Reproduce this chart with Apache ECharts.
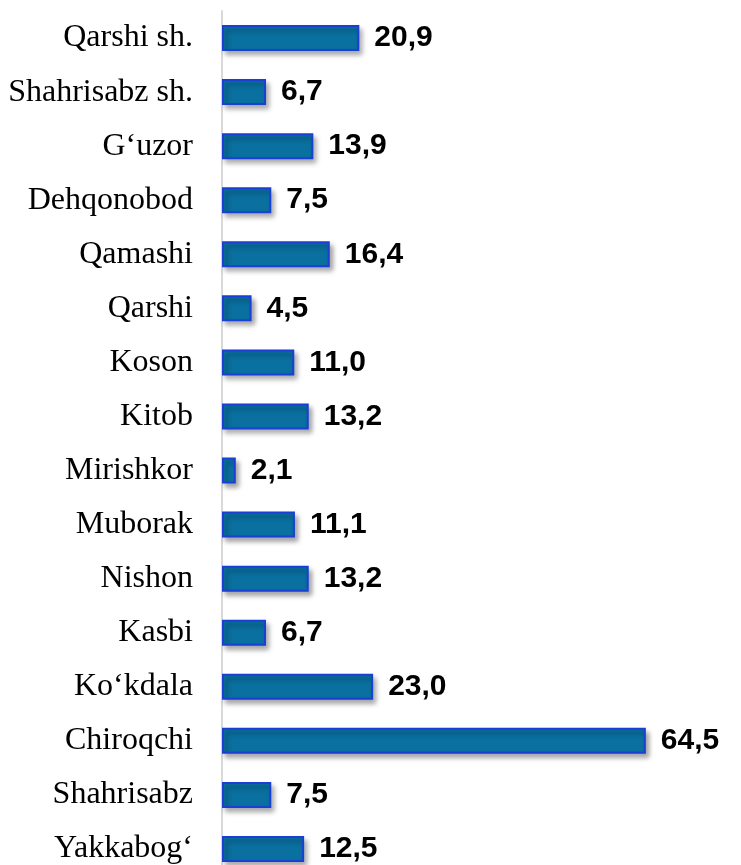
<!DOCTYPE html>
<html>
<head>
<meta charset="utf-8">
<script src="https://cdn.jsdelivr.net/npm/echarts@6/dist/echarts.min.js"></script>
<style>
  html, body { margin: 0; padding: 0; background: #fff; overflow: hidden; }
  #main { width: 741px; height: 880px; }
</style>
</head>
<body>
<div id="main"></div>
<script>
var districts = ['Qarshi sh.', 'Shahrisabz sh.', 'G‘uzor', 'Dehqonobod', 'Qamashi', 'Qarshi', 'Koson', 'Kitob',
  'Mirishkor', 'Muborak', 'Nishon', 'Kasbi', 'Ko‘kdala', 'Chiroqchi', 'Shahrisabz', 'Yakkabog‘'];
var values = [20.9, 6.7, 13.9, 7.5, 16.4, 4.5, 11.0, 13.2, 2.1, 11.1, 13.2, 6.7, 23.0, 64.5, 7.5, 12.5];

var chartDom = document.getElementById('main');
var myChart = echarts.init(chartDom);

// the chart runs a little past the bottom edge of the window, like the original
var option = {
  animation: false,
  grid: {
    left: 222,
    right: 59,
    top: 11,
    height: 865
  },
  xAxis: {
    type: 'value',
    min: 0,
    max: 70,
    show: false
  },
  yAxis: {
    type: 'category',
    data: districts,
    inverse: true,
    axisLine: { show: true, lineStyle: { color: '#d9d9d9', width: 2 } },
    axisTick: { show: false },
    axisLabel: {
      margin: 29,
      color: '#000',
      fontFamily: '"Liberation Serif", "Times New Roman", serif',
      fontSize: 32
    }
  },
  series: [{
    type: 'bar',
    data: values,
    barWidth: 26,
    itemStyle: {
      color: '#0a70a0',
      borderColor: '#1a3fd6',
      borderWidth: 2,
      shadowBlur: 5,
      shadowColor: 'rgba(0,0,0,0.35)',
      shadowOffsetX: 3,
      shadowOffsetY: 4
    },
    label: {
      show: true,
      position: 'right',
      distance: 15,
      color: '#000',
      fontFamily: '"Liberation Sans", Arial, sans-serif',
      fontWeight: 'bold',
      fontSize: 30,
      formatter: function (p) {
        return p.value.toFixed(1).replace('.', ',');
      }
    }
  }]
};

myChart.setOption(option);
</script>
</body>
</html>
